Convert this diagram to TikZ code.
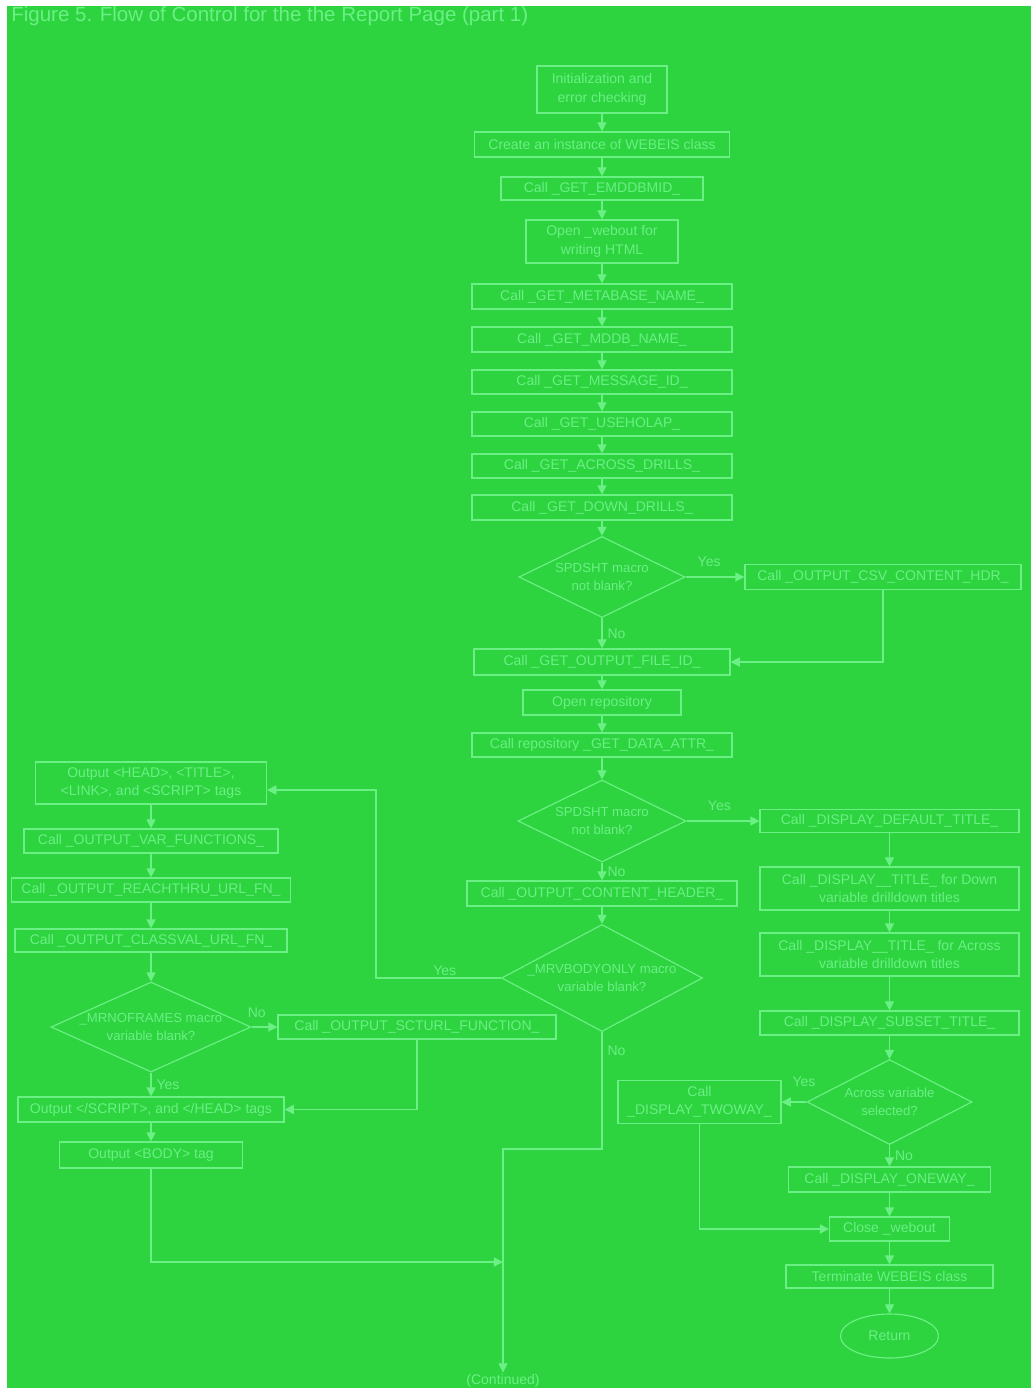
\documentclass[tikz,border=0pt]{standalone}
\usepackage{fontspec}
\setmainfont{Liberation Sans}
\usetikzlibrary{arrows.meta,shapes.geometric}
\definecolor{field}{HTML}{2ED43F}
\definecolor{pale}{HTML}{6AF085}

\begin{document}
\begin{tikzpicture}[x=0.6pt, y=-0.6pt,
  text=pale,
  box/.style={draw=pale, line width=.7pt, inner sep=0pt, align=center,
    font=\fontsize{8.4}{11}\selectfont},
  decision/.style={diamond, draw=pale, line width=.7pt, inner sep=0pt},
  terminal/.style={ellipse, draw=pale, line width=.7pt, inner sep=0pt,
    font=\fontsize{8.4}{11}\selectfont},
  qtext/.style={align=center, inner sep=0pt, font=\fontsize{7.9}{10.5}\selectfont},
  tag/.style={inner sep=1pt, font=\fontsize{8.4}{11}\selectfont},
  arrow/.style={-{Triangle[length=5.5pt,width=5.5pt]}, draw=pale, line width=.7pt}
]
  \useasboundingbox (0,0) rectangle (1031,1388);
  \fill[white] (0,0) rectangle (1031,1388);
  \fill[field] (7,6) rectangle (1031,1388);
  \node[anchor=west, inner sep=0pt, font=\fontsize{12.3}{14}\selectfont] (fig) at (11,16)
    {Figure 5. Flow of Control for the the Report Page (part 1)};

  % main column
  \node[box, minimum width=78pt, minimum height=28.2pt] (init) at (602,89.5)
    {Initialization and\\error checking};
  \node[box, minimum width=153pt, minimum height=15pt] (instance) at (602,144.5)
    {Create an instance of WEBEIS class};
  \node[box, minimum width=121.2pt, minimum height=13.8pt] (emdd) at (602,188.5)
    {Call \_GET\_EMDDBMID\_};
  \node[box, minimum width=91.2pt, minimum height=25.8pt] (webout) at (602,241.5)
    {Open \_webout for\\writing HTML};
  \node[box, minimum width=156pt, minimum height=15pt] (metabase) at (602,296.5)
    {Call \_GET\_METABASE\_NAME\_};
  \node[box, minimum width=156pt, minimum height=15pt] (mddb) at (602,339.5)
    {Call \_GET\_MDDB\_NAME\_};
  \node[box, minimum width=156pt, minimum height=14.4pt] (message) at (602,382)
    {Call \_GET\_MESSAGE\_ID\_};
  \node[box, minimum width=156pt, minimum height=14.4pt] (useholap) at (602,424)
    {Call \_GET\_USEHOLAP\_};
  \node[box, minimum width=156pt, minimum height=14.4pt] (acrossdr) at (602,466)
    {Call \_GET\_ACROSS\_DRILLS\_};
  \node[box, minimum width=156pt, minimum height=15pt] (downdr) at (602,507.5)
    {Call \_GET\_DOWN\_DRILLS\_};
  \node[decision, minimum width=99.6pt, minimum height=48.6pt] (spd1) at (602,577) {};
  \node[qtext] (spd1txt) at (spd1) {SPDSHT macro\\not blank?};
  \node[box, minimum width=165.6pt, minimum height=15pt] (csvhdr) at (883,577)
    {Call \_OUTPUT\_CSV\_CONTENT\_HDR\_};
  \node[box, minimum width=153.6pt, minimum height=15.6pt] (fileid) at (602,662)
    {Call \_GET\_OUTPUT\_FILE\_ID\_};
  \node[box, minimum width=94.8pt, minimum height=15pt] (openrepo) at (602,702.5)
    {Open repository};
  \node[box, minimum width=156pt, minimum height=14.4pt] (dataattr) at (602,745)
    {Call repository \_GET\_DATA\_ATTR\_};
  \node[decision, minimum width=100.8pt, minimum height=49.2pt] (spd2) at (602,821) {};
  \node[qtext] (spd2txt) at (spd2) {SPDSHT macro\\not blank?};
  \node[box, minimum width=162pt, minimum height=15pt] (contenthdr) at (602,893.5)
    {Call \_OUTPUT\_CONTENT\_HEADER\_};
  \node[decision, minimum width=120.6pt, minimum height=64.2pt] (bodyonly) at (602,978) {};
  \node[qtext] (bodyonlytxt) at (bodyonly) {\_MRVBODYONLY macro\\variable blank?};
  \node[tag] (cont) at (503,1381) {(Continued)};
  \coordinate (merge) at (503,1262);

  \draw[arrow] (init) -- (instance);
  \draw[arrow] (instance) -- (emdd);
  \draw[arrow] (emdd) -- (webout);
  \draw[arrow] (webout) -- (metabase);
  \draw[arrow] (metabase) -- (mddb);
  \draw[arrow] (mddb) -- (message);
  \draw[arrow] (message) -- (useholap);
  \draw[arrow] (useholap) -- (acrossdr);
  \draw[arrow] (acrossdr) -- (downdr);
  \draw[arrow] (downdr) -- (spd1);
  \draw[arrow] (spd1.east) -- node[tag, above=5pt, pos=.4] {Yes} (csvhdr.west);
  \draw[arrow] (spd1.south) -- node[tag, right=2pt] {No} (fileid.north);
  \draw[arrow] (csvhdr.south) |- (fileid.east);
  \draw[arrow] (fileid) -- (openrepo);
  \draw[arrow] (openrepo) -- (dataattr);
  \draw[arrow] (dataattr) -- (spd2);
  \draw[arrow] (spd2.south) -- node[tag, right=2pt] {No} (contenthdr.north);
  \draw[arrow] (contenthdr) -- (bodyonly);
  \draw[arrow] (bodyonly.south) -- node[tag, right=2pt, pos=.16] {No} (602,1149) -| (cont.north);

  % right column
  \node[box, minimum width=155.4pt, minimum height=13.8pt] (deftitle) at (889.5,821)
    {Call \_DISPLAY\_DEFAULT\_TITLE\_};
  \node[box, minimum width=155.4pt, minimum height=25.8pt] (downtitle) at (889.5,888.5)
    {Call \_DISPLAY\_\_TITLE\_ for Down\\variable drilldown titles};
  \node[box, minimum width=155.4pt, minimum height=25.8pt] (acrosstitle) at (889.5,954.5)
    {Call \_DISPLAY\_\_TITLE\_ for Across\\variable drilldown titles};
  \node[box, minimum width=155.4pt, minimum height=14.4pt] (subset) at (889.5,1023)
    {Call \_DISPLAY\_SUBSET\_TITLE\_};
  \node[decision, minimum width=99pt, minimum height=51pt] (acrossq) at (889.5,1102) {};
  \node[qtext] (acrossqtxt) at (acrossq) {Across variable\\selected?};
  \node[box, minimum width=97.8pt, minimum height=25.8pt] (twoway) at (699.5,1102)
    {Call\\\_DISPLAY\_TWOWAY\_};
  \node[box, minimum width=121.2pt, minimum height=15pt] (oneway) at (889.5,1179.5)
    {Call \_DISPLAY\_ONEWAY\_};
  \node[box, minimum width=72pt, minimum height=14.4pt] (close) at (889.5,1229)
    {Close \_webout};
  \node[box, minimum width=124.2pt, minimum height=13.8pt] (terminate) at (889.5,1276.5)
    {Terminate WEBEIS class};
  \node[terminal, minimum width=58.8pt, minimum height=26.4pt] (return) at (889.5,1336)
    {Return};

  \draw[arrow] (spd2.east) -- node[tag, above=5pt, pos=.45] {Yes} (deftitle.west);
  \draw[arrow] (deftitle) -- (downtitle);
  \draw[arrow] (downtitle) -- (acrosstitle);
  \draw[arrow] (acrosstitle) -- (subset);
  \draw[arrow] (subset) -- (acrossq);
  \draw[arrow] (acrossq.west) -- node[tag, above=8pt, pos=.1] {Yes} (twoway.east);
  \draw[arrow] (acrossq.south) -- node[tag, right=2pt] {No} (oneway.north);
  \draw[arrow] (oneway) -- (close);
  \draw[arrow] (twoway.south) |- (close.west);
  \draw[arrow] (close) -- (terminate);
  \draw[arrow] (terminate) -- (return);

  % left column
  \node[box, minimum width=138.6pt, minimum height=25.2pt] (headout) at (151,783)
    {Output \textless HEAD\textgreater, \textless TITLE\textgreater,\\
     \textless LINK\textgreater, and \textless SCRIPT\textgreater\ tags};
  \node[box, minimum width=152.4pt, minimum height=14.4pt] (varfn) at (151,841)
    {Call \_OUTPUT\_VAR\_FUNCTIONS\_};
  \node[box, minimum width=167.4pt, minimum height=14.4pt] (reachthru) at (151,890)
    {Call \_OUTPUT\_REACHTHRU\_URL\_FN\_};
  \node[box, minimum width=163.2pt, minimum height=13.8pt] (classval) at (151,940.5)
    {Call \_OUTPUT\_CLASSVAL\_URL\_FN\_};
  \node[decision, minimum width=120pt, minimum height=54pt] (noframes) at (151,1027) {};
  \node[qtext] (noframestxt) at (noframes) {\_MRNOFRAMES macro\\variable blank?};
  \node[box, minimum width=166.8pt, minimum height=14.4pt] (scturl) at (417,1027)
    {Call \_OUTPUT\_SCTURL\_FUNCTION\_};
  \node[box, minimum width=159.6pt, minimum height=15pt] (scriptout) at (151,1109.5)
    {Output \textless/SCRIPT\textgreater, and \textless/HEAD\textgreater\ tags};
  \node[box, minimum width=109.8pt, minimum height=15.6pt] (bodyout) at (151,1155)
    {Output \textless BODY\textgreater\ tag};

  \draw[arrow] (bodyonly.west) -- node[tag, above, pos=.45] {Yes} ++(-125,0)
    |- ([yshift=-4.2pt]headout.east);
  \draw[arrow] (headout) -- (varfn);
  \draw[arrow] (varfn) -- (reachthru);
  \draw[arrow] (reachthru) -- (classval);
  \draw[arrow] (classval) -- (noframes);
  \draw[arrow] (noframes.east) -- node[tag, above=4pt, pos=.2] {No} (scturl.west);
  \draw[arrow] (noframes.south) -- node[tag, right=2pt] {Yes} (scriptout.north);
  \draw[arrow] (scturl.south) |- (scriptout.east);
  \draw[arrow] (scriptout) -- (bodyout);
  \draw[arrow] (bodyout.south) |- (merge);
\end{tikzpicture}
\end{document}
